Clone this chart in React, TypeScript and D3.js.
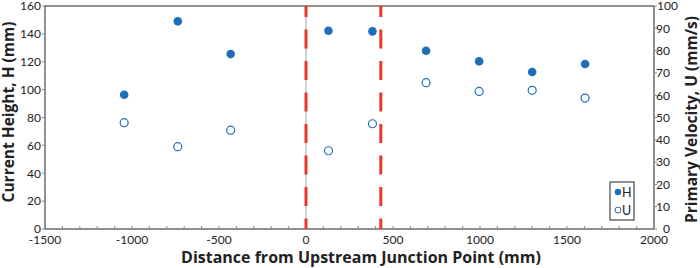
import React from "react";
import * as d3 from "d3";

const hX = [-1045, -737, -433, 129, 382, 690, 995, 1300, 1604];
const hValues = [96.3, 149, 125.5, 142.2, 141.8, 127.9, 120.3, 112.6, 118.4];
const uX = [-1045, -737, -433, 129, 382, 690, 995, 1300, 1604];
const uValues = [47.7, 36.9, 44.3, 35.1, 47.2, 65.6, 61.7, 62.2, 58.7];
const xTicks = [-1500, -1000, -500, 0, 500, 1000, 1500, 2000];
const hTicks = [0, 20, 40, 60, 80, 100, 120, 140, 160];
const uTicks = [0, 10, 20, 30, 40, 50, 60, 70, 80, 90, 100];
const junctionLines = [0, 430];
const legendLabels = ["H", "U"];

const W = 700, H = 268;
const L = 45, R = 654, T = 6, B = 229;
const BLUE = "#1f6fb8";
const FONT = "Lato, 'Open Sans', sans-serif";
const TFONT = "'Open Sans', sans-serif";

export default function App() {
  const x = d3.scaleLinear().domain([-1500, 2000]).range([L, R]);
  const yH = d3.scaleLinear().domain([0, 160]).range([B, T]);
  const yU = d3.scaleLinear().domain([0, 100]).range([B, T]);
  const minor = d3.range(-1500, 2001, 100);
  return (
    <svg width={W} height={H} style={{ position: "absolute", left: 0, top: 0 }} fontFamily={FONT}>
      <rect x={0} y={0} width={W} height={H} fill="white" />
      {/* zero axis line */}
      <line x1={x(0)} x2={x(0)} y1={T} y2={B} stroke="#a0a0a0" strokeWidth={1} />
      {/* frame */}
      <line x1={L} x2={R} y1={T} y2={T} stroke="#222" strokeWidth={1} />
      <line x1={L} x2={L} y1={T} y2={B} stroke="#222" strokeWidth={1} />
      <line x1={R} x2={R} y1={T} y2={B} stroke="#222" strokeWidth={1} />
      <line x1={L} x2={R} y1={B} y2={B} stroke="#222" strokeWidth={1} />
      {/* x minor ticks */}
      {minor.map((v) => (
        <line key={"m" + v} x1={x(v)} x2={x(v)} y1={B - 3} y2={B} stroke="#888" strokeWidth={1} />
      ))}
      {xTicks.map((v) => (
        <text key={"xt" + v} x={x(v)} y={244} fontSize={12} textAnchor="middle" fill="#222">
          {v}
        </text>
      ))}
      {hTicks.map((v) => (
        <g key={"ht" + v}>
          <line x1={L - 3} x2={L} y1={yH(v)} y2={yH(v)} stroke="#888" />
          <text x={41} y={yH(v) + 4.3} fontSize={12} textAnchor="end" fill="#222">
            {v}
          </text>
        </g>
      ))}
      {uTicks.map((v) => (
        <g key={"ut" + v}>
          <line x1={R} x2={R + 3} y1={yU(v)} y2={yU(v)} stroke="#888" />
          <text x={v === 100 ? 657 : 670} y={yU(v) + 4.3} fontSize={12} textAnchor={v === 100 ? "start" : "end"} fill="#222">
            {v}
          </text>
        </g>
      ))}
      {/* dashed junction lines */}
      {junctionLines.map((v) => (
        <line key={"j" + v} x1={x(v)} x2={x(v)} y1={T} y2={B} stroke="#e8392b" strokeWidth={3} strokeDasharray="19,12.5" strokeDashoffset={8} />
      ))}
      {/* data */}
      {hX.map((v, i) => (
        <circle key={"h" + i} cx={x(v)} cy={yH(hValues[i])} r={4.3} fill={BLUE} />
      ))}
      {uX.map((v, i) => (
        <circle key={"u" + i} cx={x(v)} cy={yU(uValues[i])} r={4} fill="white" stroke={BLUE} strokeWidth={1.2} />
      ))}
      {/* legend */}
      <rect x={610} y={182} width={24} height={38} fill="white" stroke="#222" strokeWidth={1} />
      <circle cx={618} cy={192} r={3.3} fill={BLUE} />
      <text x={622} y={196.5} fontSize={12.5} fill="#222">{legendLabels[0]}</text>
      <circle cx={618} cy={210} r={3} fill="white" stroke={BLUE} strokeWidth={1} />
      <text x={622} y={214.5} fontSize={12.5} fill="#222">{legendLabels[1]}</text>
      {/* titles */}
      <text x={361} y={263} fontSize={16} fontWeight="bold" textAnchor="middle" fill="#222" fontFamily={TFONT}>
        Distance from Upstream Junction Point (mm)
      </text>
      <text transform={`translate(14,112) rotate(-90)`} fontSize={15.5} fontWeight="bold" textAnchor="middle" fill="#222" fontFamily={TFONT}>
        Current Height, H (mm)
      </text>
      <text transform={`translate(697,119.5) rotate(-90)`} fontSize={15.5} fontWeight="bold" textAnchor="middle" fill="#222" fontFamily={TFONT}>
        Primary Velocity, U (mm/s)
      </text>
    </svg>
  );
}
